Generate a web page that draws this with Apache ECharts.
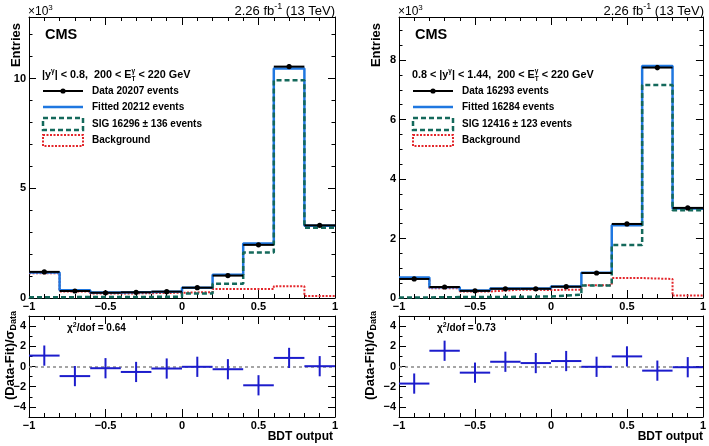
<!DOCTYPE html>
<html><head><meta charset="utf-8">
<script src="https://cdn.jsdelivr.net/npm/echarts@6/dist/echarts.min.js"></script>
<style>html,body{margin:0;padding:0;background:#fff}#c{width:709px;height:446px}</style>
</head><body><div id="c"></div>
<script>
// ---------------- data (entries in units of 10^3) ----------------
const binEdges   = [-1, -0.8, -0.6, -0.4, -0.2, 0, 0.2, 0.4, 0.6, 0.8, 1];
const binCenters = [-0.9, -0.7, -0.5, -0.3, -0.1, 0.1, 0.3, 0.5, 0.7, 0.9];
const xTickLabels = [-1, -0.5, 0, 0.5, 1];

// left panel: |y| < 0.8
const leftData    = [1.19, 0.32, 0.24, 0.26, 0.29, 0.47, 1.02, 2.42, 10.54, 3.31];
const leftDataErr = [0.035, 0.018, 0.016, 0.016, 0.017, 0.022, 0.032, 0.049, 0.103, 0.058];
const leftFit     = [1.16, 0.35, 0.25, 0.27, 0.30, 0.47, 1.06, 2.48, 10.45, 3.29];
const leftSig     = [0.03, 0.05, 0.05, 0.05, 0.06, 0.20, 0.65, 2.07, 9.92, 3.20];
const leftBkg     = [1.13, 0.30, 0.20, 0.22, 0.24, 0.27, 0.41, 0.41, 0.53, 0.09];
const leftPull    = [1.08, -0.95, -0.17, -0.54, -0.20, -0.03, -0.27, -1.86, 0.85, 0.03];

// right panel: 0.8 < |y| < 1.44
const rightData    = [0.64, 0.37, 0.24, 0.31, 0.31, 0.38, 0.84, 2.49, 7.75, 3.03];
const rightDataErr = [0.025, 0.019, 0.016, 0.018, 0.018, 0.020, 0.029, 0.050, 0.088, 0.055];
const rightFit     = [0.69, 0.36, 0.25, 0.32, 0.32, 0.39, 0.85, 2.45, 7.80, 3.01];
const rightSig     = [0.02, 0.03, 0.03, 0.04, 0.05, 0.11, 0.42, 1.78, 7.16, 2.95];
const rightBkg     = [0.66, 0.33, 0.22, 0.28, 0.27, 0.28, 0.43, 0.67, 0.64, 0.08];
const rightPull    = [-1.69, 1.56, -0.61, 0.47, 0.34, 0.54, -0.03, 1.00, -0.41, -0.07];

const pullErr = [1, 1, 1, 1, 1, 1, 1, 1, 1, 1];
const ratioMajorTicks = [-4, -2, 0, 2, 4];
const ratioMinorTicks = [-3, -1, 1, 3];

const panels = [
  {hdrPre: '|y', hdrMid: '| < 0.8,  200 < E', data: leftData, err: leftDataErr, fit: leftFit, sig: leftSig, bkg: leftBkg, pull: leftPull,
   nData: '20207', nFit: '20212', nSig: '16296', eSig: '136', chi2: '0.64', yMax: 12.8, yInterval: 5, yMinor: 5},
  {hdrPre: '0.8 < |y', hdrMid: '| < 1.44,  200 < E', data: rightData, err: rightDataErr, fit: rightFit, sig: rightSig, bkg: rightBkg, pull: rightPull,
   nData: '16293', nFit: '16284', nSig: '12416', eSig: '123', chi2: '0.73', yMax: 9.45, yInterval: 2, yMinor: 4}
];

// ---------------- styling ----------------
const FONT = '"Liberation Sans", Arial, Helvetica, sans-serif';
const C_FIT = '#1f77e0', C_SIG = '#14695b', C_BKG = '#e3262b', C_PULL = '#1c1ccc';
const fmt = v => (v < 0 ? '\u2212' : '') + Math.abs(v);

const grids = [
  {left: 29, top: 17, width: 306, height: 281},
  {left: 29, top: 316, width: 306, height: 101},
  {left: 399, top: 17, width: 305, height: 281},
  {left: 399, top: 316, width: 305, height: 101}
];

const xAxes = [], yAxes = [];
function lab(show) { return {show, margin: 3, color: '#000', fontFamily: FONT, fontWeight: 'bold', fontSize: 11, formatter: fmt}; }
function axisBase(grid, pos) {
  return {type: 'value', gridIndex: grid, position: pos,
    axisLine: {show: true, onZero: false, lineStyle: {color: '#000', width: 1}},
    splitLine: {show: false}, minorSplitLine: {show: false}};
}
function addX(grid, majLen, minLen) {
  const idx = xAxes.length;
  for (const pos of ['bottom', 'top']) {
    xAxes.push(Object.assign(axisBase(grid, pos), {min: xTickLabels[0], max: xTickLabels[xTickLabels.length - 1], interval: 0.5,
      axisTick: {inside: true, length: majLen, lineStyle: {color: '#000'}},
      minorTick: {show: true, splitNumber: 5, length: minLen, lineStyle: {color: '#000'}},
      axisLabel: lab(pos === 'bottom')}));
  }
  return idx;
}
function addYMain(grid, max, interval, minorSplit) {
  const idx = yAxes.length;
  for (const pos of ['left', 'right']) {
    yAxes.push(Object.assign(axisBase(grid, pos), {min: 0, max, interval,
      axisTick: {inside: true, length: 7, lineStyle: {color: '#000'}},
      minorTick: {show: true, splitNumber: minorSplit, length: 3.5, lineStyle: {color: '#000'}},
      axisLabel: Object.assign(lab(pos === 'left'), {showMaxLabel: false})}));
  }
  return idx;
}
function addYRatio(grid) {
  const idx = yAxes.length;
  for (const pos of ['left', 'right']) {
    yAxes.push(Object.assign(axisBase(grid, pos), {min: -5, max: 5, interval: 1,
      axisTick: {inside: true, length: 7, customValues: ratioMajorTicks, lineStyle: {color: '#000'}},
      axisLabel: Object.assign(lab(pos === 'left'), {customValues: ratioMajorTicks})}));
  }
  for (const pos of ['left', 'right']) {
    const a = axisBase(grid, pos);
    a.axisLine = {show: false, onZero: false};
    yAxes.push(Object.assign(a, {min: -5, max: 5, interval: 1,
      axisTick: {inside: true, length: 3.5, customValues: ratioMinorTicks, lineStyle: {color: '#000'}},
      axisLabel: {show: false}}));
  }
  return idx;
}

function stepData(vals) { return binEdges.map((e, i) => [e, vals[Math.min(i, vals.length - 1)]]); }
function histSeries(xi, yi, vals, color, width, type, z) {
  return {type: 'line', xAxisIndex: xi, yAxisIndex: yi, step: 'end', data: stepData(vals),
    showSymbol: false, symbol: 'none', lineStyle: {color, width, type}, z, silent: true, animation: false};
}
function errSeries(xi, yi, vals, errs, color, lw, dot, z) {
  return {type: 'custom', xAxisIndex: xi, yAxisIndex: yi, z, animation: false, silent: true,
    data: binCenters.map((c, i) => [c, vals[i], binEdges[i], binEdges[i + 1], errs[i]]),
    encode: {x: 0, y: 1},
    renderItem: (params, api) => {
      const x = api.value(0), y = api.value(1), lo = api.value(2), hi = api.value(3), e = api.value(4);
      const pL = api.coord([lo, y]), pR = api.coord([hi, y]), pT = api.coord([x, y + e]), pB = api.coord([x, y - e]), pC = api.coord([x, y]);
      const st = {stroke: color, lineWidth: lw};
      const ch = [
        {type: 'line', shape: {x1: pL[0], y1: pL[1], x2: pR[0], y2: pR[1]}, style: st},
        {type: 'line', shape: {x1: pT[0], y1: pT[1], x2: pB[0], y2: pB[1]}, style: st}
      ];
      if (dot) ch.push({type: 'circle', shape: {cx: pC[0], cy: pC[1], r: 2.6}, style: {fill: color}});
      return {type: 'group', children: ch};
    }};
}

// ---------------- text helpers ----------------
const mctx = document.createElement('canvas').getContext('2d');
function measure(t, size, weight) { mctx.font = weight + ' ' + size + 'px ' + FONT; return mctx.measureText(t).width; }
function txt(x, dy, t, size, weight, color) {
  return {type: 'text', x, y: dy, silent: true,
    style: {text: t, fontFamily: FONT, fontSize: size, fontWeight: weight, fill: color || '#000', align: 'left', verticalAlign: 'middle'}};
}
// parts: {t, size, dy} or {stack:[{t,size,dy}...]}
function run(parts, base, weight) {
  let x = 0; const ch = [];
  for (const p of parts) {
    if (p.stack) {
      let w = 0;
      for (const s of p.stack) { ch.push(txt(x, s.dy, s.t, s.size, weight)); w = Math.max(w, measure(s.t, s.size, weight)); }
      x += w;
    } else {
      const sz = p.size || base;
      ch.push(txt(x, p.dy || 0, p.t, sz, weight));
      x += measure(p.t, sz, weight);
    }
  }
  return {ch, w: x};
}
function textGroup(x, y, parts, base, weight, anchor, rotation) {
  const r = run(parts, base, weight);
  let ox = 0;
  if (anchor === 'right') ox = -r.w;
  return {type: 'group', x, y, rotation: rotation || 0, silent: true, children: r.ch.map(c => Object.assign(c, {x: c.x + ox}))};
}

// ---------------- build ----------------
const series = [];
const graphic = [];
panels.forEach((p, k) => {
  const gTop = 2 * k, gBot = 2 * k + 1;
  const xT = addX(gTop, 8, 4), yT = addYMain(gTop, p.yMax, p.yInterval, p.yMinor);
  const xB = addX(gBot, 8, 4), yB = addYRatio(gBot);

  series.push(histSeries(xT, yT, p.bkg, C_BKG, 2, [2, 1.5], 2));
  series.push(histSeries(xT, yT, p.fit, C_FIT, 2.5, 'solid', 3));
  series.push(histSeries(xT, yT, p.sig, C_SIG, 2.5, [5, 3], 4));
  series.push(errSeries(xT, yT, p.data, p.err, '#000', 2, true, 6));
  const ps = errSeries(xB, yB, p.pull, pullErr, C_PULL, 2, false, 6);
  ps.markLine = {silent: true, symbol: 'none', animation: false, label: {show: false},
    lineStyle: {color: '#888', type: [3, 3], width: 1.5}, data: [{yAxis: 0}]};
  series.push(ps);

  const ox = k * 370;      // horizontal offset of right panel text
  const oa = k * 360;      // offset of axis titles
  graphic.push(textGroup(28 + ox, 12, [{t: '\u00d710'}, {t: '3', size: 8, dy: -4}], 12, 'normal'));
  graphic.push(textGroup(335 + k * 369, 11, [{t: '2.26 fb'}, {t: '-1', size: 9, dy: -4}, {t: ' (13 TeV)'}], 13, 'normal', 'right'));
  graphic.push(textGroup(45 + ox, 35, [{t: 'CMS'}], 14.5, 'bold'));
  graphic.push(textGroup(42 + ox, 75, [{t: p.hdrPre}, {t: '\u03b3', size: 6.5, dy: -4}, {t: p.hdrMid},
    {stack: [{t: '\u03b3', size: 6.5, dy: -4}, {t: 'T', size: 6.5, dy: 4}]}, {t: ' < 220 GeV'}], 10.8, 'bold'));
  const lx0 = 43 + ox, lx1 = 83 + ox, tx = 92 + ox;
  graphic.push({type: 'line', silent: true, shape: {x1: lx0, y1: 91, x2: lx1, y2: 91}, style: {stroke: '#000', lineWidth: 2}});
  graphic.push({type: 'circle', silent: true, shape: {cx: (lx0 + lx1) / 2, cy: 91, r: 2.6}, style: {fill: '#000'}});
  graphic.push(textGroup(tx, 91, [{t: 'Data ' + p.nData + ' events'}], 10, 'bold'));
  graphic.push({type: 'line', silent: true, shape: {x1: lx0, y1: 107, x2: lx1, y2: 107}, style: {stroke: C_FIT, lineWidth: 2.5}});
  graphic.push(textGroup(tx, 107, [{t: 'Fitted ' + p.nFit + ' events'}], 10, 'bold'));
  graphic.push({type: 'rect', silent: true, shape: {x: lx0, y: 118, width: lx1 - lx0, height: 12}, style: {fill: 'none', stroke: C_SIG, lineWidth: 2.5, lineDash: [5, 3]}});
  graphic.push(textGroup(tx, 124, [{t: 'SIG ' + p.nSig + ' \u00b1 ' + p.eSig + ' events'}], 10, 'bold'));
  graphic.push({type: 'rect', silent: true, shape: {x: lx0, y: 135, width: lx1 - lx0, height: 11}, style: {fill: 'none', stroke: C_BKG, lineWidth: 2, lineDash: [2, 1.5]}});
  graphic.push(textGroup(tx, 140, [{t: 'Background'}], 10, 'bold'));
  graphic.push(textGroup(16 + oa, 23, [{t: 'Entries'}], 13, 'bold', 'right', Math.PI / 2));
  graphic.push(textGroup(10 + oa, 311, [{t: '(Data-Fit)/\u03c3'}, {t: 'Data', size: 9, dy: 4}], 13, 'bold', 'right', Math.PI / 2));
  graphic.push(textGroup(333 + ox, 437, [{t: 'BDT output'}], 12, 'bold', 'right'));
  graphic.push(textGroup(67 + ox, 328, [{t: '\u03c7'}, {t: '2', size: 7, dy: -3}, {t: '/dof = ' + p.chi2}], 10, 'bold'));
});

const chart = echarts.init(document.getElementById('c'), null, {renderer: 'canvas'});
chart.setOption({
  animation: false,
  backgroundColor: '#fff',
  grid: grids,
  xAxis: xAxes,
  yAxis: yAxes,
  series,
  graphic
});
</script>
</body></html>
